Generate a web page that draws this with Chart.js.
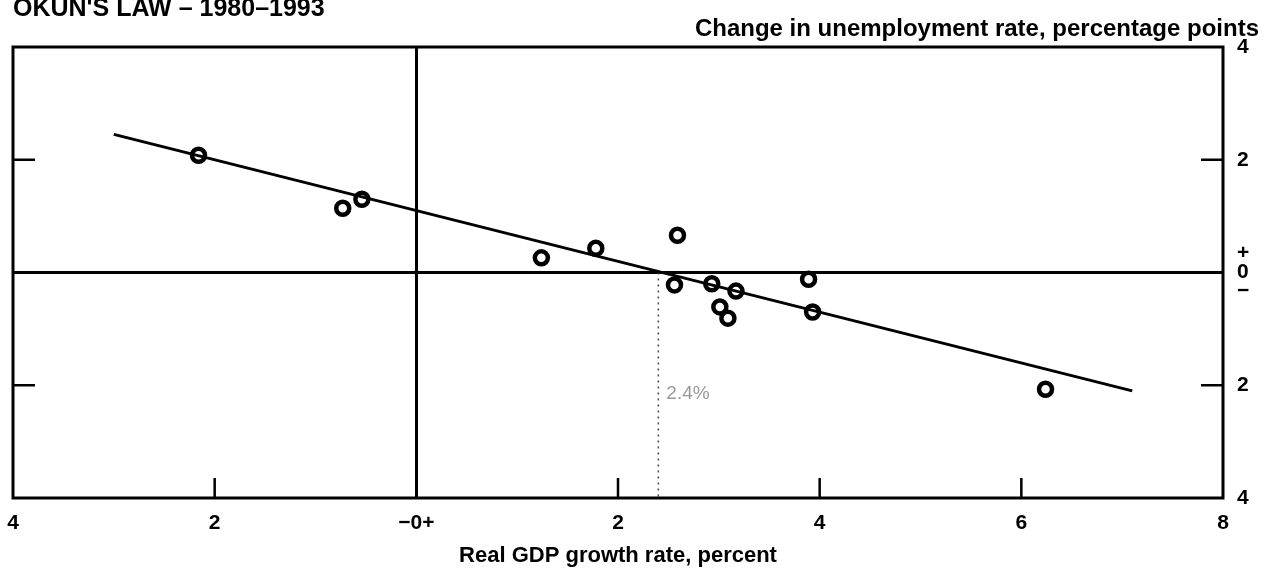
<!DOCTYPE html>
<html>
<head>
<meta charset="utf-8">
<script src="https://cdn.jsdelivr.net/npm/chart.js@4.4.1/dist/chart.umd.min.js"></script>
<style>
  html, body { margin: 0; padding: 0; background: #fff; }
  #wrap { position: relative; width: 1275px; height: 569px; }
</style>
</head>
<body>
<div id="wrap"><canvas id="c" width="1275" height="569"></canvas></div>
<script>
// one point per year, 1980-1993
const gdpGrowth = [-2.16, -0.73, -0.54, 1.24, 1.78, 2.59, 2.56, 2.93, 3.17, 3.01, 3.09, 3.89, 3.93, 6.24]
const unempChange = [2.08, 1.14, 1.30, 0.26, 0.43, 0.66, -0.22, -0.20, -0.33, -0.61, -0.81, -0.12, -0.70, -2.07]

// fitted Okun line
const fitX = [-3.0, 7.1]
const fitY = [2.45, -2.10]
const breakEven = 2.4

const xTicks = [-4, -2, 0, 2, 4, 6, 8]
const yTicks = [-4, -2, 0, 2, 4]

const titleText = "OKUN'S LAW – 1980–1993"
const yTitle = "Change in unemployment rate, percentage points"
const xTitle = "Real GDP growth rate, percent"

const FONT = "'Liberation Sans', Arial, sans-serif"

const frame = {
  id: "frame",
  beforeDatasetsDraw(chart) {
    const { ctx, chartArea: a, scales: { x, y } } = chart
    ctx.save()
    // dotted break-even drop line
    ctx.strokeStyle = "#444"
    ctx.lineWidth = 1.5
    ctx.setLineDash([2, 4])
    ctx.beginPath()
    ctx.moveTo(x.getPixelForValue(breakEven), y.getPixelForValue(0))
    ctx.lineTo(x.getPixelForValue(breakEven), a.bottom)
    ctx.stroke()
    ctx.setLineDash([])
    ctx.fillStyle = "#999"
    ctx.font = "19px " + FONT
    ctx.textBaseline = "middle"
    ctx.fillText(breakEven.toFixed(1) + "%", x.getPixelForValue(breakEven) + 8, y.getPixelForValue(-2.15))

    // inward tick marks
    ctx.strokeStyle = "#000"
    ctx.lineWidth = 2.5
    ctx.beginPath()
    yTicks.filter(v => v !== 0 && Math.abs(v) < 4).forEach(v => {
      const py = y.getPixelForValue(v)
      ctx.moveTo(a.left, py); ctx.lineTo(a.left + 22, py)
      ctx.moveTo(a.right, py); ctx.lineTo(a.right - 22, py)
    })
    xTicks.filter(v => v !== 0 && v > -4 && v < 8).forEach(v => {
      const px = x.getPixelForValue(v)
      ctx.moveTo(px, a.bottom); ctx.lineTo(px, a.bottom - 20)
    })
    ctx.stroke()

    // box
    ctx.lineWidth = 3
    ctx.strokeRect(a.left, a.top, a.right - a.left, a.bottom - a.top)
    ctx.restore()
  },
  afterDraw(chart) {
    const { ctx } = chart
    ctx.save()
    ctx.fillStyle = "#000"
    ctx.font = "bold 25px " + FONT
    ctx.textBaseline = "alphabetic"
    ctx.textAlign = "left"
    ctx.fillText(titleText, 13, 16)
    ctx.textAlign = "right"
    ctx.font = "bold 24px " + FONT
    ctx.fillText(yTitle, 1259, 36)
    ctx.restore()
  }
}

new Chart(document.getElementById("c"), {
  type: "scatter",
  data: {
    datasets: [
      {
        label: "Okun line",
        type: "line",
        data: fitX.map((v, i) => ({ x: v, y: fitY[i] })),
        borderColor: "#000",
        borderWidth: 3,
        pointRadius: 0,
        fill: false
      },
      {
        label: "Years",
        data: gdpGrowth.map((v, i) => ({ x: v, y: unempChange[i] })),
        pointStyle: "circle",
        pointRadius: 6.5,
        borderWidth: 4.5,
        borderColor: "#000",
        backgroundColor: "#fff"
      }
    ]
  },
  options: {
    responsive: false,
    animation: false,
    layout: { padding: { left: 13, top: 47, right: 0, bottom: 0 } },
    plugins: { legend: { display: false }, tooltip: { enabled: false } },
    scales: {
      x: {
        type: "linear",
        min: -4, max: 8,
        afterBuildTicks: s => { s.ticks = xTicks.map(v => ({ value: v })) },
        afterFit: s => { s.height = 71; s.paddingLeft = 0; s.paddingRight = 0 },
        border: { display: false },
        grid: {
          drawTicks: false,
          lineWidth: 3,
          color: c => (c.tick && c.tick.value === 0 ? "#000" : "transparent")
        },
        ticks: {
          padding: 13,
          color: "#000",
          font: { family: FONT, size: 21, weight: "bold" },
          callback: v => (v === 0 ? "−0+" : String(Math.abs(v)))
        },
        title: {
          display: true,
          text: xTitle,
          color: "#000",
          padding: { top: 1, bottom: 0 },
          font: { family: FONT, size: 22, weight: "bold" }
        }
      },
      y: {
        type: "linear",
        position: "right",
        min: -4, max: 4,
        afterBuildTicks: s => { s.ticks = yTicks.map(v => ({ value: v })) },
        afterFit: s => { s.width = 52; s.paddingTop = 0; s.paddingBottom = 0 },
        border: { display: false },
        grid: {
          drawTicks: false,
          lineWidth: 3,
          color: c => (c.tick && c.tick.value === 0 ? "#000" : "transparent")
        },
        ticks: {
          padding: 14,
          color: "#000",
          font: { family: FONT, size: 21, weight: "bold", lineHeight: 0.9 },
          callback: v => (v === 0 ? ["+", "0", "−"] : String(Math.abs(v)))
        }
      }
    }
  },
  plugins: [frame]
})
</script>
</body>
</html>
